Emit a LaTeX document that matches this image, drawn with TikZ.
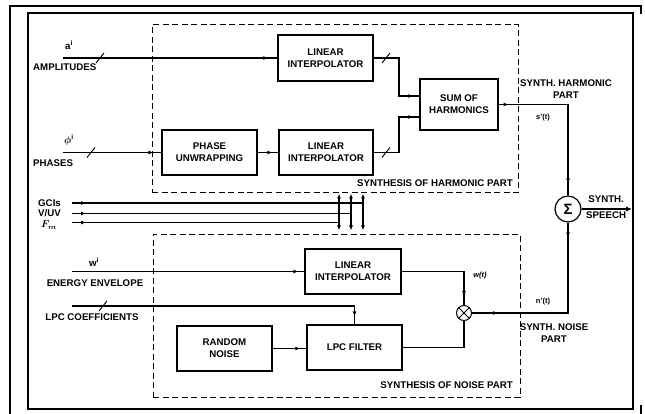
\documentclass[tikz,border=0pt]{standalone}
\usepackage{fontspec}
\setmainfont{Liberation Sans}
\usetikzlibrary{arrows.meta,decorations.markings,calc}
\begin{document}
\begin{tikzpicture}[x=1pt,y=-1pt,
  font=\fontsize{9.7}{11}\selectfont\bfseries,
  blk/.style={draw, line width=1.2pt, inner sep=0pt, align=center},
  ln/.style={line width=1.05pt},
  tip/.style={postaction={decorate},decoration={markings,mark=at position #1 with {\arrow{Latex[length=5pt,width=4pt]}}}},
  grp/.style={draw, line width=1pt, dash pattern=on 6pt off 3.5pt, inner sep=0pt},
  lbl/.style={inner sep=0pt, align=center},
  sm/.style={font=\fontsize{7.5}{8}\selectfont\bfseries, inner sep=0pt},
  frame/.style={line width=2.3pt}
]
\useasboundingbox (0,0) rectangle (645,414);
% outer frame
\draw[frame] (10,414) -- (10,6) -- (641,6) -- (641,14);
\draw[frame] (641,405) -- (641,414);
\draw[line width=1.3pt] (28,13) rectangle (633,409);

% groups
\node[grp, minimum width=366pt, minimum height=168pt] (HG) at (335,109) {};
\node[grp, minimum width=367pt, minimum height=163pt] (NG) at (336.5,315.5) {};
\node[lbl, anchor=east] (HGl) at (513,183) {SYNTHESIS OF HARMONIC PART};
\node[lbl, anchor=east] (NGl) at (513,385) {SYNTHESIS OF NOISE PART};

% blocks
\node[blk, minimum width=95pt, minimum height=46pt] (LI1) at (325.5,58) {LINEAR\\[1pt]INTERPOLATOR};
\node[blk, minimum width=95pt, minimum height=45pt] (PU) at (209.5,152.5) {PHASE\\[1pt]UNWRAPPING};
\node[blk, minimum width=94pt, minimum height=45pt] (LI2) at (326,152.5) {LINEAR\\[1pt]INTERPOLATOR};
\node[blk, minimum width=78pt, minimum height=51pt] (SUM) at (459,104.5) {SUM OF\\[1pt]HARMONICS};
\node[blk, minimum width=96pt, minimum height=45pt] (LIN) at (353,271.5) {LINEAR\\[1pt]INTERPOLATOR};
\node[blk, minimum width=95pt, minimum height=45pt] (RN) at (224.5,348.5) {RANDOM\\[1pt]NOISE};
\node[blk, minimum width=95pt, minimum height=45pt] (LPC) at (354.5,347.5) {LPC FILTER};
\node[draw, circle, line width=1.2pt, minimum size=26pt, inner sep=0pt, font=\fontsize{15}{15}\selectfont\bfseries] (SIG) at (568,209) {Σ};
\node[draw, circle, line width=1pt, minimum size=15pt, inner sep=0pt] (MUL) at (464,313) {};
\draw[line width=0.9pt] (MUL.north east) -- (MUL.south west) (MUL.north west) -- (MUL.south east);

% input coordinates
\coordinate (ain) at (63,58);
\coordinate (pin) at (63,152.5);
\coordinate (win) at (72,271.5);
\coordinate (lin) at (72,306);
\coordinate (g1s) at (72,203);
\coordinate (g2s) at (72,213.5);
\coordinate (g3s) at (72,222.5);
\coordinate (g1e) at (363,203);
\coordinate (g2e) at (351,213.5);
\coordinate (g3e) at (339,222.5);
\coordinate (sout) at (632,209);

% input labels
\node[lbl] (al) at (69,45) {a\textsuperscript{i}};
\node[lbl, anchor=west] (aml) at (33,67) {AMPLITUDES};
\node[lbl] (pl) at (69,140) {{\boldmath$\phi$}\textsuperscript{i}};
\node[lbl, anchor=west] (phl) at (33,163) {PHASES};
\node[lbl, anchor=west] (gl) at (38,203) {GCIs};
\node[lbl, anchor=west] (vl) at (38,213.5) {V/UV};
\node[lbl, anchor=west] (fl) at (41,225) {{\boldmath$F_{m}$}};
\node[lbl] (wl) at (94,262) {w\textsuperscript{i}};
\node[lbl] (eel) at (95,283) {ENERGY ENVELOPE};
\node[lbl] (lcl) at (92,317) {LPC COEFFICIENTS};

% output labels
\node[lbl] (shl) at (566,89) {SYNTH. HARMONIC\\[1pt]PART};
\node[sm] (stl) at (543,118) {s'(t)};
\node[sm] (wtl) at (480,276) {\itshape w(t)};
\node[sm] (ntl) at (543,302) {n'(t)};
\node[lbl] (snl) at (554,333) {SYNTH. NOISE\\[1pt]PART};
\node[lbl, anchor=west] (ssl) at (586,207) {SYNTH.\\[5pt]SPEECH};

% harmonic connectors
\draw[ln, tip=-9pt] (ain) -- (ain -| LI1.west);
\draw[ln, tip=-8pt] (pin) -- (pin -| PU.west);
\draw[ln, tip=-6pt] (PU.east) -- (LI2.west);
\draw[ln, tip=-6pt] (LI1.east) -- (399,58) |- ($(SUM.west)+(0,-8.5)$);
\draw[ln, tip=-6pt] (LI2.east) -- (399,152.5) |- ($(SUM.west)+(0,12.5)$);
\draw[ln, postaction={decorate}, decoration={markings,
   mark=at position 10pt with {\arrow{Latex[length=5pt,width=4pt]}},
   mark=at position -12pt with {\arrow{Latex[length=5pt,width=4pt]}}}]
   (SUM.east) -| (SIG.north);
\draw[ln, -{Latex[length=6pt,width=5pt]}] (SIG.east) -- (sout);

% slashes
\foreach \sx/\sy in {100/58, 91/152.5, 386/58, 386/152.5, 103/306}
  \draw[line width=0.9pt] (\sx-4,\sy+5) -- (\sx+4,\sy-5);

% control lines
\draw[ln, tip=14pt] (g1s) -- (g1e);
\draw[ln, tip=14pt] (g2s) -- (g2e);
\draw[ln, tip=14pt] (g3s) -- (g3e);
\foreach \g in {g1e,g2e,g3e}
  \draw[ln, {Latex[length=5pt,width=4pt]}-{Latex[length=5pt,width=4pt]}] (\g |- HG.south) -- ([yshift=3pt]\g |- NG.north);

% noise connectors
\draw[ln, tip=-6pt] (win) -- (win -| LIN.west);
\draw[ln, tip=-8pt] (lin) -| (LPC.north);
\draw[ln, tip=-6pt] (RN.east) -- (RN.east -| LPC.west);
\draw[ln, tip=-9pt] (LIN.east) -| (MUL.north);
\draw[ln] (LPC.east) -| (MUL.south);
\draw[ln, postaction={decorate}, decoration={markings,
   mark=at position 26pt with {\arrow{Latex[length=5pt,width=4pt]}},
   mark=at position -6pt with {\arrow{Latex[length=5pt,width=4pt]}}}]
   (MUL.east) -| (SIG.south);
\end{tikzpicture}
\end{document}
